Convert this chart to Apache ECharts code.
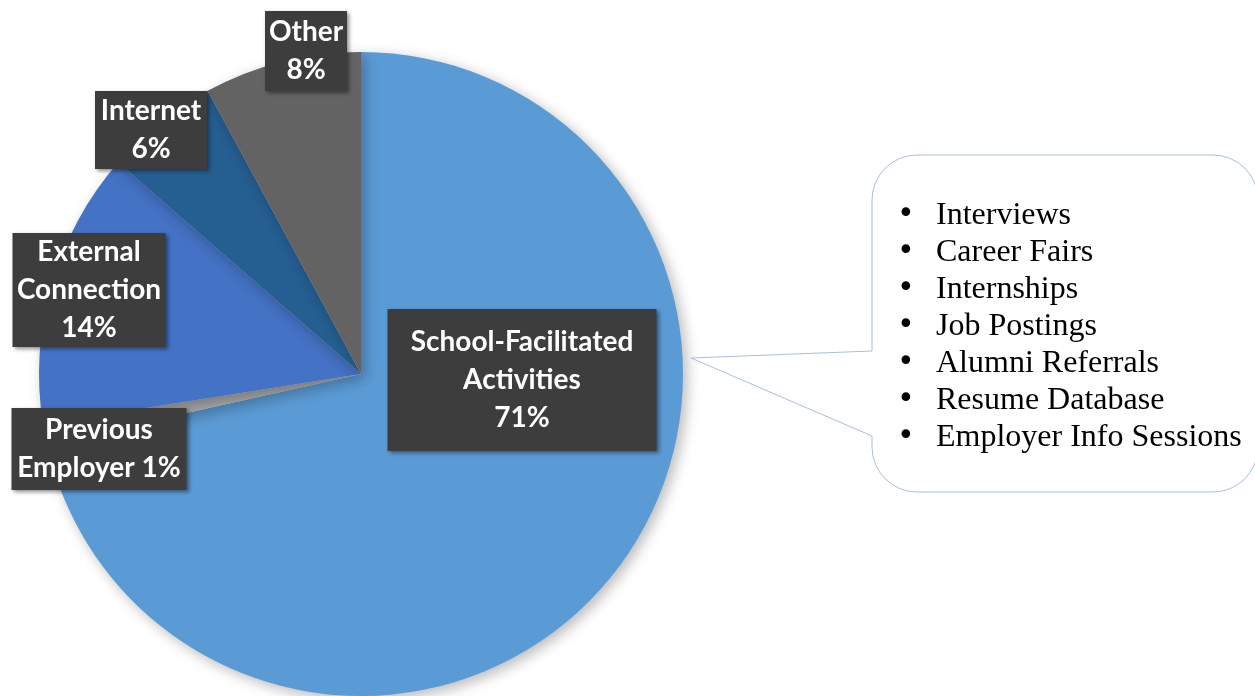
<!DOCTYPE html>
<html>
<head>
<meta charset="utf-8">
<script src="https://cdn.jsdelivr.net/npm/echarts@6/dist/echarts.min.js"></script>
<style>
html,body{margin:0;padding:0;background:#fff;}
#chart{width:1255px;height:696px;}
</style>
</head>
<body>
<div id="chart"></div>
<script>
// ---- data ----
const categories = ['School-Facilitated\nActivities', 'Previous\nEmployer', 'External\nConnection', 'Internet', 'Other'];
const values = [71.5, 1.0, 13.9, 5.7, 7.9];
const bulletItems = ['Interviews', 'Career Fairs', 'Internships', 'Job Postings', 'Alumni Referrals', 'Resume Database', 'Employer Info Sessions'];

// ---- layout / style ----
const colors = ['#5B9BD5', '#A5A5A5', '#4472C4', '#255E91', '#636363'];
const pctSep = ['\n', ' ', '\n', '\n', '\n'];
const labelCenters = [[522, 380], [99, 449], [89, 290], [151, 130], [306, 51]];
const labelBoxW = [269, 175, 153, 112, 82];
const labelPadV = [14, 3, 0, 1, 2];

const total = values.reduce((a, b) => a + b, 0);
const chart = echarts.init(document.getElementById('chart'));

const data = categories.map((c, i) => ({
  name: c,
  value: values[i],
  itemStyle: { color: colors[i] },
  label: { width: labelBoxW[i], padding: [labelPadV[i], 0, labelPadV[i], 0] }
}));

const bulletText = bulletItems.map(t => '{b|•}{t|' + t + '}').join('\n');

chart.setOption({
  animation: false,
  series: [{
    type: 'pie',
    center: [361, 374],
    radius: 322,
    startAngle: 90,
    clockwise: true,
    silent: true,
    data: data,
    itemStyle: {
      shadowBlur: 14,
      shadowColor: 'rgba(0,0,0,0.28)',
      shadowOffsetX: 4,
      shadowOffsetY: 4
    },
    labelLine: { show: false },
    label: {
      show: true,
      position: 'inside',
      formatter: p => p.name + pctSep[p.dataIndex] + Math.round(p.value / total * 100) + '%',
      color: '#ffffff',
      fontFamily: 'Lato',
      fontWeight: 'bold',
      fontSize: 28,
      lineHeight: 38,
      align: 'center',
      backgroundColor: '#3d3d3d',
      shadowColor: 'rgba(0,0,0,0.45)',
      shadowBlur: 4,
      shadowOffsetX: 2,
      shadowOffsetY: 2
    },
    labelLayout: function (params) {
      const c = labelCenters[params.dataIndex];
      return { x: c[0], y: c[1], align: 'center', verticalAlign: 'middle', hideOverlap: false };
    }
  }],
  graphic: [
    {
      type: 'rect',
      shape: { x: 872, y: 155, width: 386, height: 337, r: 45 },
      style: { fill: '#ffffff', stroke: '#a9bfd9', lineWidth: 1 },
      z: 10
    },
    {
      type: 'polygon',
      shape: { points: [[691, 358], [872, 351], [874, 351], [874, 436], [872, 436]] },
      style: { fill: '#ffffff', stroke: null },
      z: 11
    },
    {
      type: 'polyline',
      shape: { points: [[872, 351], [691, 358], [872, 436]] },
      style: { fill: null, stroke: '#a9bfd9', lineWidth: 1 },
      z: 12
    },
    {
      type: 'text',
      x: 897,
      y: 197,
      z: 13,
      style: {
        text: bulletText,
        fill: '#000000',
        fontFamily: 'Liberation Serif',
        fontSize: 32,
        lineHeight: 37,
        rich: {
          b: { width: 39, fontSize: 30, fontFamily: 'DejaVu Sans', lineHeight: 37 },
          t: { fontSize: 32, fontFamily: 'Liberation Serif', lineHeight: 37 }
        }
      }
    }
  ]
});
</script>
</body>
</html>
